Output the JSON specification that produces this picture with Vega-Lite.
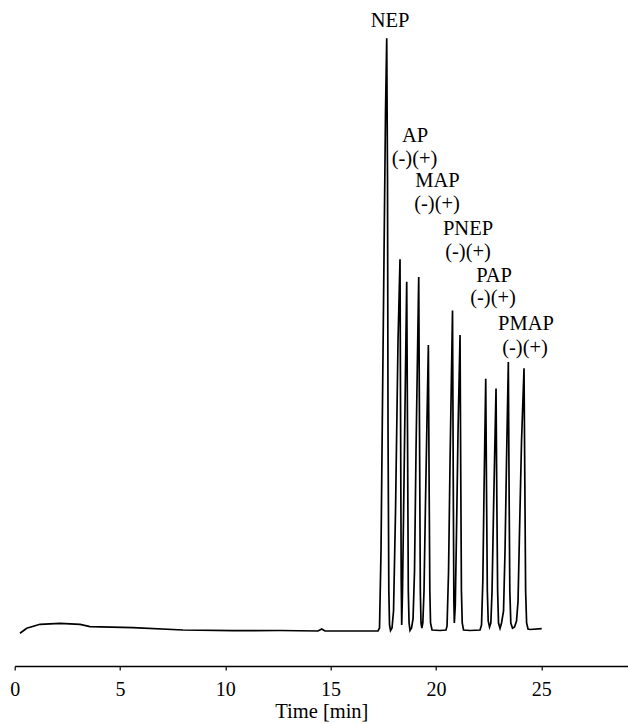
{
  "$schema": "https://vega.github.io/schema/vega-lite/v6.json",
  "width": 613.3,
  "height": 666,
  "autosize": {"type": "none"},
  "padding": {"left": 14.7, "top": 0, "right": 0, "bottom": 58},
  "background": "white",
  "config": {"view": {"stroke": null}, "font": "Liberation Serif, Times New Roman, serif"},
  "datasets": {
    "trace": [
      {"t": 0.252, "s": -2.3}, {"t": 0.570, "s": 2.7}, {"t": 1.201, "s": 6.7}, {"t": 2.151, "s": 7.7},
      {"t": 3.101, "s": 6.7}, {"t": 3.575, "s": 4.3}, {"t": 5.617, "s": 3.3}, {"t": 7.991, "s": 1.0},
      {"t": 10.366, "s": 0.3}, {"t": 12.597, "s": 0.5}, {"t": 14.402, "s": 0}, {"t": 14.577, "s": 2},
      {"t": 14.734, "s": 0}, {"t": 15.114, "s": 0}, {"t": 17.251, "s": 0},
      {"t": 17.322, "s": 3}, {"t": 17.393, "s": 80}, {"t": 17.464, "s": 230}, {"t": 17.607, "s": 520},
      {"t": 17.664, "s": 592.7}, {"t": 17.702, "s": 450}, {"t": 17.726, "s": 200}, {"t": 17.764, "s": 40},
      {"t": 17.797, "s": 6}, {"t": 17.844, "s": 0.5}, {"t": 17.915, "s": 3},
      {"t": 17.987, "s": 20}, {"t": 18.082, "s": 120}, {"t": 18.200, "s": 290}, {"t": 18.295, "s": 371.7},
      {"t": 18.324, "s": 200}, {"t": 18.352, "s": 50}, {"t": 18.376, "s": 6},
      {"t": 18.414, "s": 40}, {"t": 18.485, "s": 150}, {"t": 18.613, "s": 349.3}, {"t": 18.651, "s": 200},
      {"t": 18.689, "s": 40}, {"t": 18.725, "s": 8}, {"t": 18.771, "s": 0.5}, {"t": 18.842, "s": 3},
      {"t": 18.913, "s": 12}, {"t": 18.984, "s": 60}, {"t": 19.055, "s": 180}, {"t": 19.183, "s": 354},
      {"t": 19.221, "s": 200}, {"t": 19.259, "s": 40}, {"t": 19.293, "s": 8}, {"t": 19.331, "s": 3},
      {"t": 19.378, "s": 8},
      {"t": 19.435, "s": 40}, {"t": 19.506, "s": 130}, {"t": 19.641, "s": 286}, {"t": 19.673, "s": 160},
      {"t": 19.711, "s": 40}, {"t": 19.744, "s": 8}, {"t": 19.815, "s": 1}, {"t": 20.195, "s": 0.5},
      {"t": 20.479, "s": 1},
      {"t": 20.528, "s": 5}, {"t": 20.600, "s": 60}, {"t": 20.671, "s": 170}, {"t": 20.788, "s": 320.5},
      {"t": 20.823, "s": 150}, {"t": 20.852, "s": 30}, {"t": 20.874, "s": 8},
      {"t": 20.918, "s": 25}, {"t": 20.978, "s": 100}, {"t": 21.050, "s": 200}, {"t": 21.145, "s": 296},
      {"t": 21.178, "s": 160}, {"t": 21.211, "s": 40}, {"t": 21.249, "s": 8}, {"t": 21.311, "s": 1},
      {"t": 21.620, "s": 0.5}, {"t": 22.094, "s": 1},
      {"t": 22.165, "s": 6}, {"t": 22.227, "s": 50}, {"t": 22.284, "s": 140}, {"t": 22.365, "s": 252.3},
      {"t": 22.403, "s": 140}, {"t": 22.441, "s": 40}, {"t": 22.483, "s": 10}, {"t": 22.545, "s": 4},
      {"t": 22.608, "s": 8},
      {"t": 22.665, "s": 40}, {"t": 22.735, "s": 120}, {"t": 22.854, "s": 242.5}, {"t": 22.892, "s": 130},
      {"t": 22.930, "s": 40}, {"t": 22.972, "s": 8}, {"t": 23.044, "s": 2.7}, {"t": 23.115, "s": 8},
      {"t": 23.210, "s": 20}, {"t": 23.281, "s": 80}, {"t": 23.352, "s": 170}, {"t": 23.438, "s": 269},
      {"t": 23.471, "s": 150}, {"t": 23.509, "s": 40}, {"t": 23.556, "s": 8}, {"t": 23.637, "s": 2.7},
      {"t": 23.732, "s": 4}, {"t": 23.827, "s": 10},
      {"t": 23.899, "s": 30}, {"t": 23.970, "s": 100}, {"t": 24.065, "s": 190}, {"t": 24.183, "s": 262.7},
      {"t": 24.221, "s": 150}, {"t": 24.259, "s": 40}, {"t": 24.306, "s": 8}, {"t": 24.373, "s": 2},
      {"t": 24.468, "s": 1.5}, {"t": 25.024, "s": 2.3}
    ],
    "labels": [
      {"t": 17.820, "s": 604, "label": "NEP"},
      {"t": 19.007, "s": 489.3, "label": "AP"},
      {"t": 18.984, "s": 466.5, "label": "(-)(+)"},
      {"t": 20.076, "s": 444, "label": "MAP"},
      {"t": 20.052, "s": 421.5, "label": "(-)(+)"},
      {"t": 21.524, "s": 396, "label": "PNEP"},
      {"t": 21.524, "s": 373, "label": "(-)(+)"},
      {"t": 22.759, "s": 349, "label": "PAP"},
      {"t": 22.711, "s": 327.5, "label": "(-)(+)"},
      {"t": 24.279, "s": 301, "label": "PMAP"},
      {"t": 24.231, "s": 277.5, "label": "(-)(+)"}
    ]
  },
  "layer": [
    {
      "data": {"name": "trace"},
      "mark": {"type": "line", "color": "black", "strokeWidth": 1.7, "interpolate": "linear", "clip": true},
      "encoding": {
        "x": {
          "field": "t", "type": "quantitative",
          "scale": {"domain": [0, 29.12], "nice": false, "zero": false},
          "axis": {
            "title": "Time [min]",
            "values": [0, 5, 10, 15, 20, 25],
            "format": "d",
            "grid": false,
            "domainColor": "black", "domainWidth": 1.6,
            "tickColor": "black", "tickWidth": 1.2, "tickSize": 4,
            "labelFont": "Liberation Serif, Times New Roman, serif", "labelFontSize": 20, "labelColor": "black",
            "labelPadding": 9, "labelFlush": false,
            "titleFont": "Liberation Serif, Times New Roman, serif", "titleFontSize": 20.5, "titleFontWeight": "normal",
            "titleColor": "black", "titlePadding": 2
          }
        },
        "y": {
          "field": "s", "type": "quantitative",
          "scale": {"domain": [-35, 631], "nice": false, "zero": false},
          "axis": null
        }
      }
    },
    {
      "data": {"name": "labels"},
      "mark": {"type": "text", "font": "Liberation Serif, Times New Roman, serif", "fontSize": 20.5, "color": "black", "align": "center", "baseline": "alphabetic"},
      "encoding": {
        "x": {"field": "t", "type": "quantitative"},
        "y": {"field": "s", "type": "quantitative"},
        "text": {"field": "label"}
      }
    }
  ]
}
